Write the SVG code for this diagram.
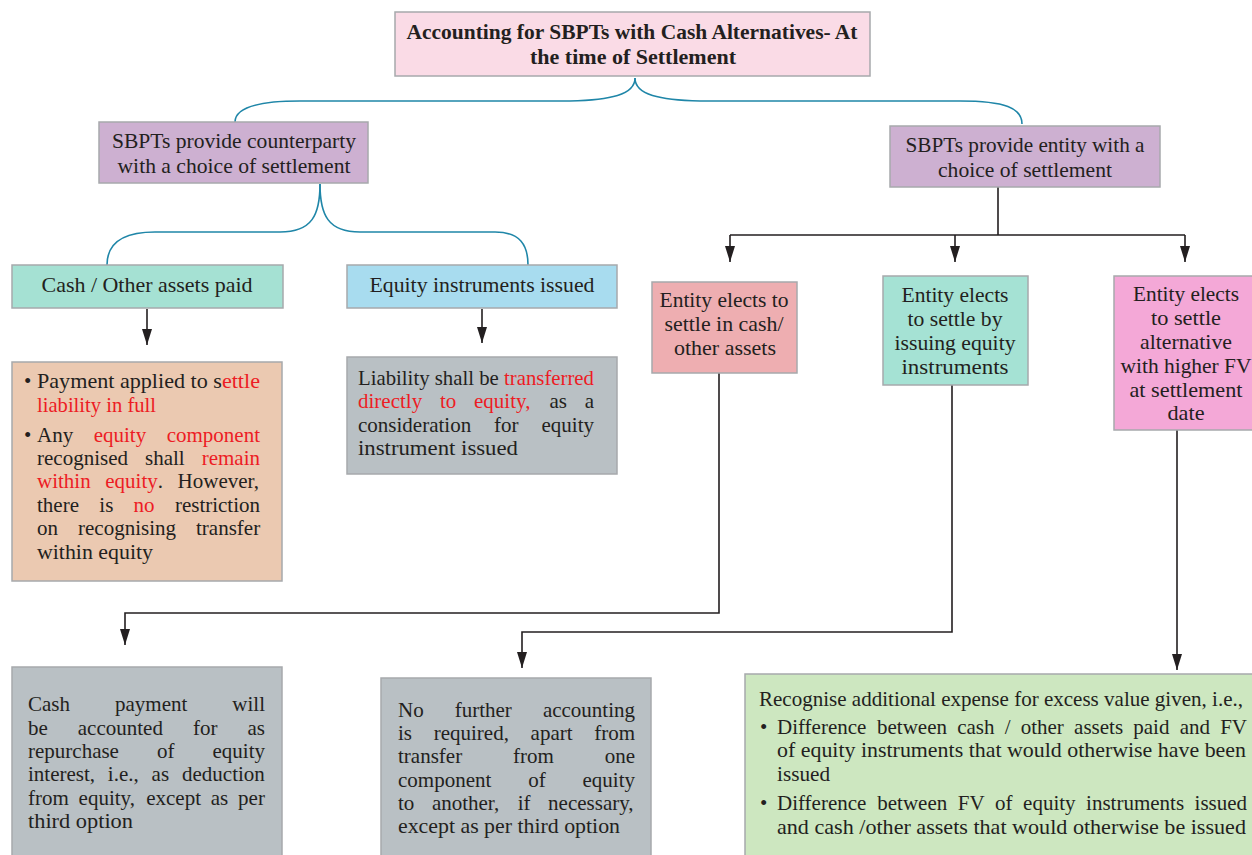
<svg xmlns="http://www.w3.org/2000/svg" width="1252" height="855" viewBox="0 0 1252 855">
<defs>
<style>
.box{stroke:#a7a9ac;stroke-width:1.5}
.t{font-family:"Liberation Serif","Times New Roman",serif;font-size:21px;fill:#231f20}
.c{text-anchor:middle}
.b{font-weight:bold}
.r{fill:#ed1c24}
.blue{fill:none;stroke:#1f86a8;stroke-width:1.6}
.ln{fill:none;stroke:#231f20;stroke-width:1.6}
.ar{fill:none;stroke:#231f20;stroke-width:1.6;marker-end:url(#ah)}
</style>
<marker id="ah" viewBox="0 0 16 10" refX="16" refY="5" markerWidth="16" markerHeight="10" markerUnits="userSpaceOnUse" orient="auto">
<path d="M0,0 L16,5 L0,10 Z" fill="#231f20"/>
</marker>
</defs>
<rect width="1252" height="855" fill="#ffffff"/>

<g id="connectors">
<path class="blue" d="M635,78 C635,95 610,100 570,101 L300,101 C255,101 235,108 235,122"/>
<path class="blue" d="M635,78 C635,95 660,100 700,101 L960,101 C1005,101 1022,108 1022,124"/>
<path class="blue" d="M320,184 C320,215 312,232 280,232 L155,232 C120,232 107,245 107,265"/>
<path class="blue" d="M320,184 C320,215 328,232 360,232 L495,232 C520,232 528,245 528,265"/>
<path class="ar" d="M147,309 V345"/>
<path class="ar" d="M482,309 V343"/>
<path class="ln" d="M998,187 V235 M730,235 H1185"/>
<path class="ar" d="M730,235 V262"/>
<path class="ar" d="M955,235 V262"/>
<path class="ar" d="M1185,235 V262"/>
<path class="ar" d="M719,373 V613 H125 V645"/>
<path class="ar" d="M952,385 V632 H522 V668"/>
<path class="ar" d="M1177,430 V670"/>
</g>

<g id="title">
<rect class="box" x="395" y="12" width="475" height="64" fill="#fadbe6"/>
<text class="t c b" x="632" y="39" textLength="451" lengthAdjust="spacingAndGlyphs">Accounting for SBPTs with Cash Alternatives- At</text>
<text class="t c b" x="633" y="64" textLength="206" lengthAdjust="spacingAndGlyphs">the time of Settlement</text>
</g>

<g id="counterparty">
<rect class="box" x="99" y="122" width="269" height="61" fill="#cdb0d1"/>
<text class="t c" x="234" y="148" textLength="244" lengthAdjust="spacingAndGlyphs">SBPTs provide counterparty</text>
<text class="t c" x="234" y="173" textLength="233" lengthAdjust="spacingAndGlyphs">with a choice of settlement</text>
</g>

<g id="entity">
<rect class="box" x="890" y="126" width="270" height="61" fill="#cdb0d1"/>
<text class="t c" x="1025" y="152" textLength="239" lengthAdjust="spacingAndGlyphs">SBPTs provide entity with a</text>
<text class="t c" x="1025" y="177" textLength="174" lengthAdjust="spacingAndGlyphs">choice of settlement</text>
</g>

<g id="cashpaid">
<rect class="box" x="12" y="265" width="271" height="43" fill="#a5e1d3"/>
<text class="t c" x="147" y="292" textLength="211" lengthAdjust="spacingAndGlyphs">Cash / Other assets paid</text>
</g>

<g id="equityissued">
<rect class="box" x="347" y="265" width="270" height="43" fill="#a8dcef"/>
<text class="t c" x="482" y="292" textLength="225" lengthAdjust="spacingAndGlyphs">Equity instruments issued</text>
</g>

<g id="cashnote">
<rect class="box" x="12" y="362" width="270" height="219" fill="#ebc9b1"/>
<text class="t" x="24" y="388">•</text>
<text class="t" x="37" y="388" textLength="223" lengthAdjust="spacingAndGlyphs">Payment applied to s<tspan class="r">ettle</tspan></text>
<text class="t r" x="37" y="412" textLength="119" lengthAdjust="spacingAndGlyphs">liability in full</text>
<text class="t" x="24" y="442">•</text>
<text class="t" y="442"><tspan x="37">Any</tspan><tspan class="r" x="93.7">equity</tspan><tspan class="r" x="166.7">component</tspan></text>
<text class="t" y="465"><tspan x="37">recognised</tspan><tspan x="145">shall</tspan><tspan class="r" x="201.7">remain</tspan></text>
<text class="t" y="488"><tspan class="r" x="37">within</tspan><tspan class="r" x="105.3">equity</tspan><tspan x="157.8">.</tspan><tspan x="177.6">However,</tspan></text>
<text class="t" y="512"><tspan x="37">there</tspan><tspan x="99.3">is</tspan><tspan class="r" x="133.6">no</tspan><tspan x="174.9">restriction</tspan></text>
<text class="t" y="535"><tspan x="37">on</tspan><tspan x="78">recognising</tspan><tspan x="196">transfer</tspan></text>
<text class="t" x="37" y="559" textLength="116" lengthAdjust="spacingAndGlyphs">within equity</text>
</g>

<g id="equitynote">
<rect class="box" x="347" y="357" width="270" height="117" fill="#b9c0c4"/>
<text class="t" x="358" y="385" textLength="236" lengthAdjust="spacingAndGlyphs">Liability shall be <tspan class="r">transferred</tspan></text>
<text class="t" y="408"><tspan class="r" x="358">directly</tspan><tspan class="r" x="440">to</tspan><tspan class="r" x="474">equity,</tspan><tspan x="549.5">as</tspan><tspan x="584.7">a</tspan></text>
<text class="t" y="432"><tspan x="358">consideration</tspan><tspan x="494.1">for</tspan><tspan x="541.5">equity</tspan></text>
<text class="t" x="358" y="455" textLength="160" lengthAdjust="spacingAndGlyphs">instrument issued</text>
</g>

<g id="electcash">
<rect class="box" x="652" y="282" width="145" height="91" fill="#eeaeb1"/>
<text class="t c" x="724" y="307" textLength="129" lengthAdjust="spacingAndGlyphs">Entity elects to</text>
<text class="t c" x="724" y="331" textLength="119" lengthAdjust="spacingAndGlyphs">settle in cash/</text>
<text class="t c" x="725" y="355" textLength="102" lengthAdjust="spacingAndGlyphs">other assets</text>
</g>

<g id="electequity">
<rect class="box" x="883" y="276" width="145" height="109" fill="#a5e2d4"/>
<text class="t c" x="955" y="302" textLength="107" lengthAdjust="spacingAndGlyphs">Entity elects</text>
<text class="t c" x="955" y="326" textLength="95" lengthAdjust="spacingAndGlyphs">to settle by</text>
<text class="t c" x="955" y="350" textLength="121" lengthAdjust="spacingAndGlyphs">issuing equity</text>
<text class="t c" x="955" y="374" textLength="107" lengthAdjust="spacingAndGlyphs">instruments</text>
</g>

<g id="electhigher">
<rect class="box" x="1114" y="276" width="142" height="154" fill="#f4a8d7"/>
<text class="t c" x="1186" y="301" textLength="106" lengthAdjust="spacingAndGlyphs">Entity elects</text>
<text class="t c" x="1186" y="325" textLength="70" lengthAdjust="spacingAndGlyphs">to settle</text>
<text class="t c" x="1186" y="349" textLength="92" lengthAdjust="spacingAndGlyphs">alternative</text>
<text class="t c" x="1186" y="373" textLength="131" lengthAdjust="spacingAndGlyphs">with higher FV</text>
<text class="t c" x="1186" y="397" textLength="113" lengthAdjust="spacingAndGlyphs">at settlement</text>
<text class="t c" x="1186" y="420" textLength="37" lengthAdjust="spacingAndGlyphs">date</text>
</g>

<g id="cashresult">
<rect class="box" x="12" y="667" width="270" height="192" fill="#b9c0c4"/>
<text class="t" y="711"><tspan x="28">Cash</tspan><tspan x="115">payment</tspan><tspan x="232.3">will</tspan></text>
<text class="t" y="735"><tspan x="28">be</tspan><tspan x="77.8">accounted</tspan><tspan x="192.9">for</tspan><tspan x="247.5">as</tspan></text>
<text class="t" y="758"><tspan x="28">repurchase</tspan><tspan x="157">of</tspan><tspan x="212.5">equity</tspan></text>
<text class="t" y="781"><tspan x="28">interest,</tspan><tspan x="107.8">i.e.,</tspan><tspan x="151.6">as</tspan><tspan x="182">deduction</tspan></text>
<text class="t" y="805"><tspan x="28">from</tspan><tspan x="78.6">equity,</tspan><tspan x="146.2">except</tspan><tspan x="210.8">as</tspan><tspan x="238.1">per</tspan></text>
<text class="t" x="28" y="828" textLength="105" lengthAdjust="spacingAndGlyphs">third option</text>
</g>

<g id="equityresult">
<rect class="box" x="381" y="678" width="270" height="181" fill="#b9c0c4"/>
<text class="t" y="717"><tspan x="398">No</tspan><tspan x="454.7">further</tspan><tspan x="542.9">accounting</tspan></text>
<text class="t" y="740"><tspan x="398">is</tspan><tspan x="433.7">required,</tspan><tspan x="530.6">apart</tspan><tspan x="594.3">from</tspan></text>
<text class="t" y="763"><tspan x="398">transfer</tspan><tspan x="513">from</tspan><tspan x="604.7">one</tspan></text>
<text class="t" y="787"><tspan x="398">component</tspan><tspan x="528.2">of</tspan><tspan x="582.5">equity</tspan></text>
<text class="t" y="810"><tspan x="398">to</tspan><tspan x="431.9">another,</tspan><tspan x="517.7">if</tspan><tspan x="548.1">necessary,</tspan></text>
<text class="t" x="398" y="833" textLength="222" lengthAdjust="spacingAndGlyphs">except as per third option</text>
</g>

<g id="higherresult">
<rect class="box" x="745" y="674" width="511" height="185" fill="#cde7c0"/>
<text class="t" x="759" y="706" textLength="484" lengthAdjust="spacingAndGlyphs">Recognise additional expense for excess value given, i.e.,</text>
<text class="t" x="760" y="734">•</text>
<text class="t" y="734"><tspan x="777">Difference</tspan><tspan x="877">between</tspan><tspan x="957.2">cash</tspan><tspan x="1004.7">/</tspan><tspan x="1020.7">other</tspan><tspan x="1074.1">assets</tspan><tspan x="1133.3">paid</tspan><tspan x="1179.7">and</tspan><tspan x="1220.2">FV</tspan></text>
<text class="t" x="777" y="757" textLength="469" lengthAdjust="spacingAndGlyphs">of equity instruments that would otherwise have been</text>
<text class="t" x="777" y="781" textLength="53" lengthAdjust="spacingAndGlyphs">issued</text>
<text class="t" x="760" y="810">•</text>
<text class="t" y="810"><tspan x="777">Difference</tspan><tspan x="877.3">between</tspan><tspan x="957.8">FV</tspan><tspan x="995.1">of</tspan><tspan x="1023.1">equity</tspan><tspan x="1086.1">instruments</tspan><tspan x="1194.6">issued</tspan></text>
<text class="t" x="777" y="834" textLength="469" lengthAdjust="spacingAndGlyphs">and cash /other assets that would otherwise be issued</text>
</g>
</svg>
